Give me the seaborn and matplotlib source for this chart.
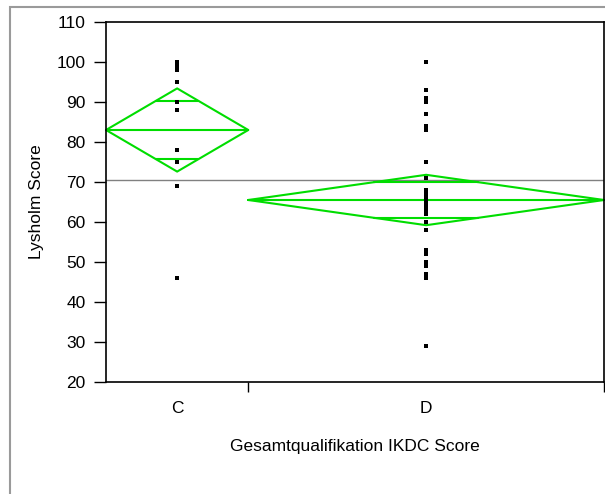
import numpy as np
import pandas as pd
import matplotlib
matplotlib.use("Agg")
import matplotlib.pyplot as plt
from matplotlib.patches import Rectangle
import seaborn as sns

# Lysholm scores per IKDC overall grade
groups = ["C", "D"]
scores_c = [100, 99, 98, 95, 90, 90, 88, 78, 75, 75, 69, 46]
scores_d = [100, 93, 91, 90, 87, 84, 83, 75, 71, 68, 67, 66, 66, 65, 65,
            65, 64, 63, 62, 60, 60, 58, 53, 52, 50, 49, 47, 46, 46, 29]

# Means diamonds: group mean and 95% CI half-width
group_means = [83.0, 65.5]
group_ci = [10.4, 6.3]
grand_mean = 70.5

y_ticks = [20, 30, 40, 50, 60, 70, 80, 90, 100, 110]

sns.set_style("white")
plt.rcParams["font.family"] = ["Liberation Sans", "DejaVu Sans"]
plt.rcParams["text.color"] = "black"
plt.rcParams["axes.labelcolor"] = "black"
plt.rcParams["xtick.color"] = "black"
plt.rcParams["ytick.color"] = "black"

all_scores = [scores_c, scores_d]
counts = [len(s) for s in all_scores]
edges = np.concatenate([[0], np.cumsum(counts)])
centers = (edges[:-1] + edges[1:]) / 2

df = pd.DataFrame({
    "group": np.repeat(groups, counts),
    "score": np.concatenate(all_scores),
})
df["xpos"] = df["group"].map(dict(zip(groups, centers)))

fig = plt.figure(figsize=(6.05, 4.94), dpi=100)
W, H = 605, 494
ax = fig.add_axes([106 / W, (H - 382) / H, (604 - 106) / W, 360 / H])

# outer frame of the report panel
fig.patches.append(Rectangle((10 / W, -0.05), 1.1, (H - 7) / H + 0.05,
                             transform=fig.transFigure, fill=False,
                             edgecolor="#9a9a9a", linewidth=1.5))

green = "#00dd00"
ax.axhline(grand_mean, color="#808080", linewidth=1.0, zorder=1)

for left, right, c, m, ci in zip(edges[:-1], edges[1:], centers,
                                 group_means, group_ci):
    xs = [left, c, right, c, left]
    ys = [m, m + ci, m, m - ci, m]
    ax.plot(xs, ys, color=green, linewidth=1.5, zorder=2, clip_on=False)
    ax.plot([left, right], [m, m], color=green, linewidth=1.5, zorder=2,
            clip_on=False)
    half = (c - left) * (1 - 1 / np.sqrt(2))
    off = ci / np.sqrt(2)
    for yy in (m + off, m - off):
        ax.plot([c - half, c + half], [yy, yy], color=green,
                linewidth=1.5, zorder=2)

sns.scatterplot(data=df, x="xpos", y="score", marker="s", s=7,
                color="black", linewidth=0, ax=ax, zorder=3)

ax.set_xlim(edges[0], edges[-1])
ax.set_ylim(20, 110)
ax.set_yticks(y_ticks)
ax.tick_params(axis="y", direction="out", length=8.6, width=1.0,
               left=True, labelsize=12.5, pad=6, color="black")

ax.set_xticks(centers)
ax.set_xticklabels(groups)
ax.tick_params(axis="x", which="major", length=0, pad=14, labelsize=12.5)
ax.set_xticks(edges[1:], minor=True)
ax.tick_params(axis="x", which="minor", direction="out", length=7.2,
               width=1.0, bottom=True, color="black")

for sp in ax.spines.values():
    sp.set_color("black")
    sp.set_linewidth(1.2)

ax.set_xlabel("Gesamtqualifikation IKDC Score", fontsize=12.5, labelpad=16)
ax.set_ylabel("Lysholm Score", fontsize=12.5, labelpad=9)

fig.savefig("out.png", dpi=100)
